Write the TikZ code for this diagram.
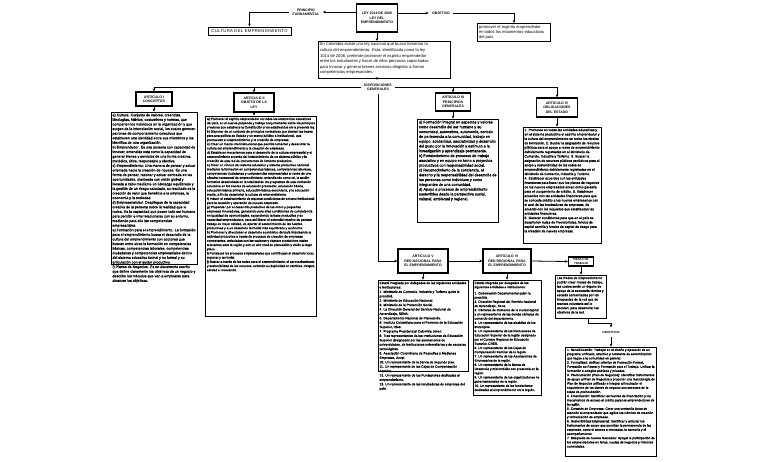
\documentclass[tikz,border=0pt]{standalone}
\usepackage{fontspec}
\setmainfont{Liberation Sans}
\usetikzlibrary{arrows.meta, positioning}
\newcommand{\leytexto}[3]{\parbox[t][#2][t]{#1}{\raggedright\addfontfeatures{FakeBold=0.35}#3}}
\newcommand{\leyplano}[3]{\parbox[t][#2][t]{#1}{\raggedright #3}}

\begin{document}
\begin{tikzpicture}[
  x=1pt, y=-1pt,
  titulo/.style={rectangle, draw, line width=1.3pt, inner sep=1pt, align=center,
                 font=\fontsize{3.5}{4.4}\selectfont\bfseries},
  contenido/.style={rectangle, draw, line width=1pt, inner sep=1.5pt,
                    font=\fontsize{3.2}{4.2}\selectfont},
  etiqueta/.style={font=\fontsize{3.5}{4.4}\selectfont\bfseries, align=center},
  flecha/.style={-{Stealth[length=3pt, width=2.6pt]}, line width=0.8pt},
  linea/.style={line width=0.8pt}
]
\useasboundingbox (0,0) rectangle (768,461);

% parte superior
\node[titulo, line width=1.5pt, minimum width=41pt, minimum height=28pt] (ley) at (377,18)
  {LEY 1014 DE 2006\\LEY DEL\\EMPRENDIMIENTO};
\node[etiqueta] (princ) at (306,12) {PRINCIPIO\\FUNDAMENTAL};
\node[etiqueta] (obj) at (441,13) {OBJETIVO};
\node[rectangle, draw, line width=1pt, minimum width=83pt, minimum height=8pt, inner sep=0.5pt,
      font=\fontsize{4.2}{5}\selectfont\addfontfeatures{LetterSpace=8}] (cultura) at (249.5,31)
  {CULTURA DEL EMPRENDIMIENTO};
\node[contenido, anchor=north, font=\fontsize{4.1}{5}\selectfont] (promover) at (514,23)
  {\leyplano{70pt}{15pt}{promover el espíritu emprendedor\\ en todos los estamentos educativos\\ del país}};
\node[contenido, anchor=north, font=\fontsize{4.1}{5.6}\selectfont] (intro) at (384.5,41)
  {\leyplano{129pt}{34pt}{En Colombia existe una ley nacional que busca fomentar la\\
cultura del emprendimiento. Esta, identificada como la ley\\
1014 de 2006, pretende promover el espíritu emprendedor\\
entre los estudiantes y hacer de ellos personas capacitadas\\
para innovar y generar bienes servicios dirigidos a formar\\
competencias empresariales.}};
\node[etiqueta] (disp) at (378,87) {DISPOSICIONES\\GENERALES};

\draw[flecha] (ley.west |- princ.east) -- (princ.east);
\draw[flecha] (princ.west) -| (cultura.north);
\draw[flecha] (ley.east |- obj.west) -- (obj.west);
\draw[flecha] (obj.east) -| (promover.north);
\draw[flecha] (ley.south) -- (ley.south |- intro.north);
\draw[flecha] (ley.south |- intro.south) -- (ley.south |- disp.north);

% articulos I a IV
\node[titulo, minimum width=36pt, minimum height=14pt] (art1) at (154,99) {ARTICULO I\\CONCEPTOS};
\node[titulo, minimum width=40pt, minimum height=19pt] (art2) at (254,102.5) {ARTICULO II\\OBJETO DE LA\\LEY};
\node[titulo, minimum width=35pt, minimum height=18pt] (art3) at (453,102) {ARTICULO III\\PRINCIPIOS\\GENERALES};
\node[titulo, minimum width=41pt, minimum height=19pt] (art4) at (557,107.5) {ARTICULO IV\\OBLIGACIONES\\DEL ESTADO};

\draw[flecha] (disp.west) -| (art1.north);
\draw[flecha] (art2.north |- disp.west) -- (art2.north);
\draw[flecha] (disp.east) -| (art4.north);
\draw[flecha] (art3.north |- disp.east) -- (art3.north);

\node[contenido, below=5pt of art1, font=\fontsize{3.6}{4.6}\selectfont] (txt1)
  {\leytexto{83pt}{149pt}{a) Cultura: Conjunto de valores, creencias, ideologías, hábitos, costumbres y normas, que comparten los individuos en la organización y que surgen de la interrelación social, los cuales generan patrones de comportamiento colectivos que establecen una identidad entre sus miembros y los identifica de otra organización.\\
b) Emprendedor: Es una persona con capacidad de innovar; entendida esta como la capacidad de generar bienes y servicios de una forma creativa, metódica, ética, responsable y efectiva.\\
c) Emprendimiento: Una manera de pensar y actuar orientada hacia la creación de riqueza. Es una forma de pensar, razonar y actuar centrada en las oportunidades, planteada con visión global y llevada a cabo mediante un liderazgo equilibrado y la gestión de un riesgo calculado, su resultado es la creación de valor que beneficia a la empresa, la economía y la sociedad.\\
d) Empresarialidad: Despliegue de la capacidad creativa de la persona sobre la realidad que le rodea. Es la capacidad que posee todo ser humano para percibir e interrelacionarse con su entorno, mediando para ello las competencias empresariales.\\
e) Formación para el emprendimiento. La formación para el emprendimiento busca el desarrollo de la cultura del emprendimiento con acciones que buscan entre otros la formación en competencias básicas, competencias laborales, competencias ciudadanas y competencias empresariales dentro del sistema educativo formal y no formal y su articulación con el sector productivo.\\
f) Planes de Negocios. Es un documento escrito que define claramente los objetivos de un negocio y describe los métodos que van a emplearse para alcanzar los objetivos.}};
\node[contenido, below=3pt of art2, xshift=7pt] (txt2)
  {\leytexto{108pt}{197pt}{a) Promover el espíritu emprendedor en todos los estamentos educativos del país, en el cual se propenda y trabaje conjuntamente sobre los principios y valores que establece la Constitución y los establecidos en la presente ley.\\
b) Disponer de un conjunto de principios normativos que sienten las bases para una política de Estado y un marco jurídico e institucional, que promuevan el emprendimiento y la creación de empresas.\\
c) Crear un marco interinstitucional que permita fomentar y desarrollar la cultura del emprendimiento y la creación de empresas.\\
d) Establecer mecanismos para el desarrollo de la cultura empresarial y el emprendimiento a través del fortalecimiento de un sistema público y la creación de una red de instrumentos de fomento productivo.\\
e) Crear un vínculo del sistema educativo y sistema productivo nacional mediante la formación en competencias básicas, competencias laborales, competencias ciudadanas y competencias empresariales a través de una cátedra transversal de emprendimiento; entendiendo como tal, la acción formativa desarrollada en la totalidad de los programas de una institución educativa en los niveles de educación preescolar, educación básica, educación básica primaria, educación básica secundaria, y la educación media, a fin de desarrollar la cultura de emprendimiento.\\
f) Inducir el establecimiento de mejores condiciones de entorno institucional para la creación y operación de nuevas empresas.\\
g) Propender por el desarrollo productivo de las micro y pequeñas empresas innovadoras, generando para ellas condiciones de competencia en igualdad de oportunidades, expandiendo la base productiva y su capacidad emprendedora, para así liberar el potencial creativo de generar trabajo de mejor calidad, de aportar al sostenimiento de las fuentes productivas y a un desarrollo territorial más equilibrado y autónomo.\\
h) Promover y direccionar el desarrollo económico del país impulsando la actividad productiva a través de procesos de creación de empresas competentes, articuladas con las cadenas y clusters productivos reales relevantes para la región y con un alto nivel de planeación y visión a largo plazo.\\
i) Fortalecer los procesos empresariales que contribuyan al desarrollo local, regional y territorial.\\
j) Buscar a través de las redes para el emprendimiento, el aprovechamiento y sostenibilidad de los recursos, evitando su duplicidad en cambios, riesgos, calidad e innovación.}};
\node[contenido, below=7pt of art3, xshift=5pt, font=\fontsize{3.8}{4.8}\selectfont] (txt3)
  {\leytexto{78pt}{100pt}{a) Formación integral en aspectos y valores como desarrollo del ser humano y su comunidad, autoestima, autonomía, sentido de pertenencia a la comunidad, trabajo en equipo, solidaridad, asociatividad y desarrollo del gusto por la innovación y estímulo a la investigación y aprendizaje permanente.\\
b) Fortalecimiento de procesos de trabajo asociativo y en equipo en torno a proyectos productivos con responsabilidad social.\\
c) Reconocimiento de la conciencia, el derecho y la responsabilidad del desarrollo de las personas como individuos y como integrantes de una comunidad.\\
d) Apoyo a procesos de emprendimiento sostenibles desde la perspectiva social, cultural, ambiental y regional.}};
\node[contenido, below=9pt of art4, xshift=5pt, font=\fontsize{3.35}{4.4}\selectfont] (txt4)
  {\leytexto{75pt}{113pt}{1. Promover en todas las entidades educativas y en el sistema productivo el espíritu emprendedor y la cultura del emprendimiento en todos los niveles de formación. 2. Buscar la asignación de recursos públicos para el apoyo a redes de emprendimiento debidamente registradas en el Ministerio de Comercio, Industria y Turismo. 3. Buscar la asignación de recursos públicos periódicos para el apoyo y sostenibilidad de las redes de emprendimiento debidamente registradas en el Ministerio de Comercio, Industria y Turismo.\\
4. Establecer acuerdos con las entidades financieras para hacer que los planes de negocios de los nuevos empresarios sirvan como garantía para el otorgamiento de crédito. 5. Establecer acuerdos con las entidades financieras para que se conceda crédito a los nuevos empresarios con el aval de las incubadoras de empresas, de acuerdo con los requisitos que establezcan las entidades financieras.\\
6. Generar condiciones para que en el país se desarrollen redes de inversionistas, fondos de capital semilla y fondos de capital de riesgo para la creación de nuevas empresas.}};

\draw[flecha] (art1.south) -- (art1.south |- txt1.north);
\draw[flecha] (art2.south) -- (art2.south |- txt2.north);
\draw[flecha] (art3.south) -- (art3.south |- txt3.north);
\draw[flecha] (art4.south) -- (art4.south |- txt4.north);

% redes y mesas de trabajo
\node[titulo, minimum width=50pt, minimum height=24pt] (art5) at (423,261) {ARTICULO V\\RED NACIONAL PARA\\EL EMPRENDIMIENTO};
\node[titulo, minimum width=48pt, minimum height=24pt] (art6) at (507,261) {ARTICULO VI\\RED REGIONAL PARA\\EL EMPRENDIMIENTO};
\node[titulo, minimum width=25pt, minimum height=9pt, font=\fontsize{2.9}{3.4}\selectfont\bfseries] (mesas) at (581,261.5) {MESAS DE\\TRABAJO};

\draw[flecha] (disp.south) |- (art5.west);
\draw[flecha] (art5) -- (art6);
\draw[flecha] (art6.east) -- (mesas.west);

\node[contenido, below=6pt of art5, font=\fontsize{3.3}{4.4}\selectfont] (txt5)
  {\leytexto{87pt}{88pt}{Estará integrada por delegados de las siguientes entidades e instituciones:\\
1. Ministerio de Comercio, Industria y Turismo quien la presidirá.\\
2. Ministerio de Educación Nacional.\\
3. Ministerio de la Protección Social.\\
4. La Dirección General del Servicio Nacional de Aprendizaje, SENA.\\
5. Departamento Nacional de Planeación.\\
6. Instituto Colombiano para el Fomento de la Educación Superior, Icfes.\\
7. Programa Presidencial Colombia Joven.\\
8. Tres representantes de las Instituciones de Educación Superior designados por las asociaciones de universidades, de instituciones universitarias y de escuelas tecnológicas.\\
9. Asociación Colombiana de Pequeñas y Medianas Empresas, Acopi.\\
10. Un representante de la banca de segundo piso.\\
11. Un representante de las Cajas de Compensación Familiar.\\
12. Un representante de las Fundaciones dedicadas al emprendimiento.\\
13. Un representante de las incubadoras de empresas del país.}};
\node[contenido, below=6pt of art6] (txt6)
  {\leytexto{65pt}{112pt}{Estará integrada por delegados de las siguientes entidades e instituciones:\\[2pt]
1. Gobernación Departamental quien la presidirá.\\
2. Dirección Regional del Servicio Nacional de Aprendizaje, Sena.\\
3. Cámaras de Comercio de la ciudad capital y un representante de las demás cámaras de comercio del departamento.\\
4. Un representante de las alcaldías de los municipios.\\
5. Un representante de las Instituciones de Educación Superior de la región designado por el Consejo Regional de Educación Superior, CRES.\\
6. Un representante de las Cajas de Compensación Familiar de la región.\\
7. Un representante de las Asociaciones de Empresarios de la región.\\
8. Un representante de la Banca de Desarrollo y microcrédito con presencia en la región.\\
9. Un representante de las organizaciones no gubernamentales de la región.\\
10. Un representante de las fundaciones dedicadas al emprendimiento en la región.}};
\node[contenido, below=8pt of mesas, font=\fontsize{3.3}{4.3}\selectfont] (txtmesas)
  {\leytexto{48pt}{40pt}{Las Redes de Emprendimiento podrán crear mesas de trabajo, las cuales serán un órgano de apoyo de la secretaría técnica y estarán conformadas por los integrantes de la red que de manera voluntaria así lo decidan, para desarrollar los objetivos de la red.}};
\node[etiqueta, font=\fontsize{3}{3.6}\selectfont\bfseries] (objs) at (611,332) {OBJETIVOS};
\node[contenido, below=10pt of objs] (txtobjs)
  {\leytexto{88pt}{106pt}{1. Sensibilización: Trabajar en el diseño y ejecución de un programa unificado, atractivo y constante de sensibilización que llegue a la comunidad en general.\\
2. Formalidad: Unificar criterios de Formación Formal, Formación no Formal y Formación para el Trabajo. Unificar la formación a colegios públicos y privados.\\
3. Preincubación (Plan de Negocios): Identificar instrumentos de apoyo al Plan de Negocios y proponer una metodología de Plan de Negocios unificado e integrar al incubador el seguimiento de los planes de negocio con asesores de la etapa de preincubación.\\
4. Financiación: Identificar las fuentes de financiación y los mecanismos de acceso al crédito para los emprendedores de la región.\\
5. Creación de Empresas: Crear una ventanilla única de atención al emprendedor que agilice los trámites de creación y formalización de empresas.\\
6. Sostenibilidad Empresarial: Identificar y articular los instrumentos de apoyo que permitan la permanencia de las empresas, como el acceso a mercados, la asesoría y el acompañamiento.\\
7. Búsqueda de nuevos mercados: Apoyar la participación de los emprendedores en ferias, ruedas de negocios y misiones comerciales.}};

\draw[flecha] (art5.south) -- (art5.south |- txt5.north);
\draw[flecha] (art6.south) -- (art6.south |- txt6.north);
\draw[flecha] (mesas.south) -- (mesas.south |- txtmesas.north);
\draw[flecha] ([xshift=7pt]txtmesas.south) -- ++(0,5) -| (objs.north);
\draw[flecha] (objs.south) -- (objs.south |- txtobjs.north);
\end{tikzpicture}
\end{document}
